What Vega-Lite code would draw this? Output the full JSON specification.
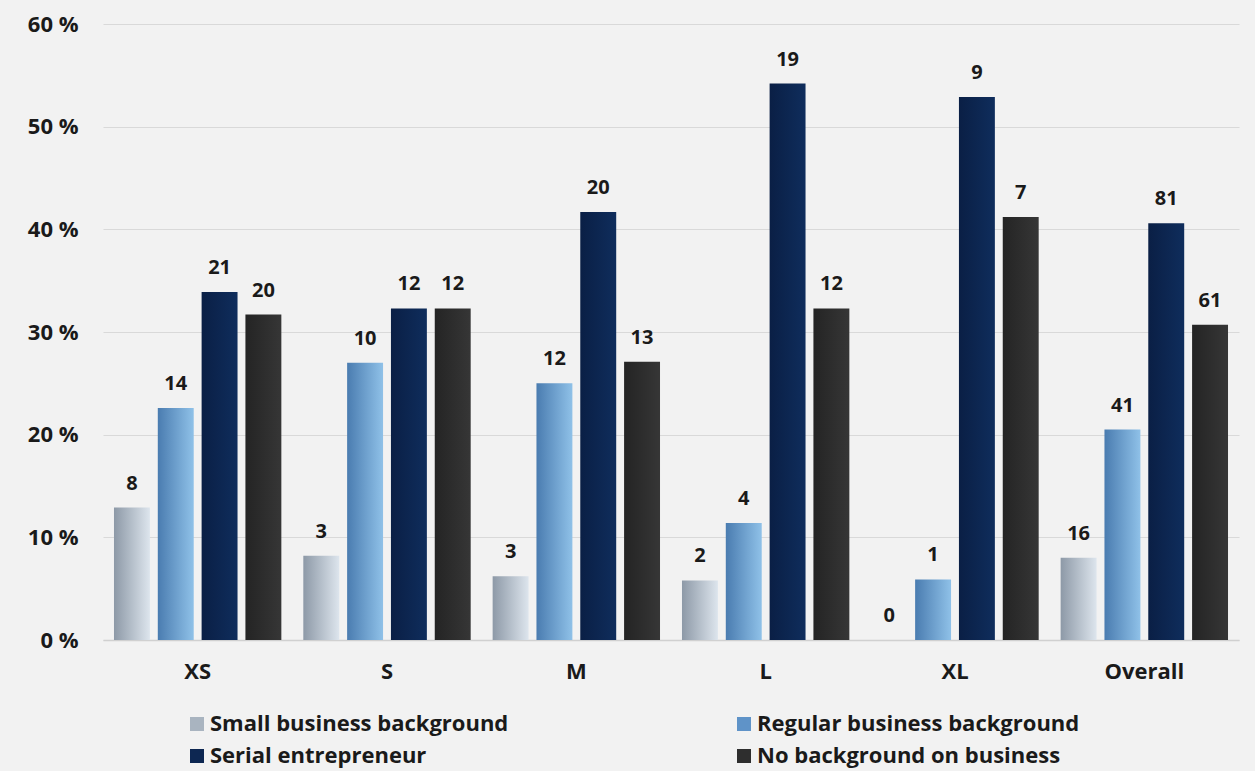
{
  "$schema": "https://vega.github.io/schema/vega-lite/v6.json",
  "width": 1136,
  "height": 616,
  "padding": {"left": 27, "top": 13, "right": 16, "bottom": 10},
  "background": "#f2f2f2",
  "config": {"view": {"stroke": null}, "font": "Open Sans"},
  "data": {
    "values": [
      {"size": "XS", "bg": "Small business background", "pct": 12.9, "n": 8},
      {"size": "XS", "bg": "Regular business background", "pct": 22.6, "n": 14},
      {"size": "XS", "bg": "Serial entrepreneur", "pct": 33.9, "n": 21},
      {"size": "XS", "bg": "No background on business", "pct": 31.7, "n": 20},
      {"size": "S", "bg": "Small business background", "pct": 8.2, "n": 3},
      {"size": "S", "bg": "Regular business background", "pct": 27.0, "n": 10},
      {"size": "S", "bg": "Serial entrepreneur", "pct": 32.3, "n": 12},
      {"size": "S", "bg": "No background on business", "pct": 32.3, "n": 12},
      {"size": "M", "bg": "Small business background", "pct": 6.2, "n": 3},
      {"size": "M", "bg": "Regular business background", "pct": 25.0, "n": 12},
      {"size": "M", "bg": "Serial entrepreneur", "pct": 41.7, "n": 20},
      {"size": "M", "bg": "No background on business", "pct": 27.1, "n": 13},
      {"size": "L", "bg": "Small business background", "pct": 5.8, "n": 2},
      {"size": "L", "bg": "Regular business background", "pct": 11.4, "n": 4},
      {"size": "L", "bg": "Serial entrepreneur", "pct": 54.2, "n": 19},
      {"size": "L", "bg": "No background on business", "pct": 32.3, "n": 12},
      {"size": "XL", "bg": "Small business background", "pct": 0, "n": 0},
      {"size": "XL", "bg": "Regular business background", "pct": 5.9, "n": 1},
      {"size": "XL", "bg": "Serial entrepreneur", "pct": 52.9, "n": 9},
      {"size": "XL", "bg": "No background on business", "pct": 41.2, "n": 7},
      {"size": "Overall", "bg": "Small business background", "pct": 8.0, "n": 16},
      {"size": "Overall", "bg": "Regular business background", "pct": 20.5, "n": 41},
      {"size": "Overall", "bg": "Serial entrepreneur", "pct": 40.6, "n": 81},
      {"size": "Overall", "bg": "No background on business", "pct": 30.7, "n": 61}
    ]
  },
  "encoding": {
    "x": {
      "field": "size", "type": "nominal",
      "sort": ["XS", "S", "M", "L", "XL", "Overall"],
      "scale": {"paddingInner": 0.116, "paddingOuter": 0.058},
      "axis": {"title": null, "labelAngle": 0, "labelFontSize": 22, "labelFontWeight": "bold", "labelColor": "#1a1a1a", "labelPadding": 21, "ticks": false, "domain": true, "domainColor": "#d0d0d0", "domainWidth": 1.5}
    },
    "xOffset": {
      "field": "bg", "type": "nominal",
      "sort": ["Small business background", "Regular business background", "Serial entrepreneur", "No background on business"],
      "scale": {"paddingInner": 0.18, "paddingOuter": 0}
    },
    "y": {
      "field": "pct", "type": "quantitative",
      "scale": {"domain": [0, 60]},
      "axis": {"title": null, "values": [0, 10, 20, 30, 40, 50, 60], "labelExpr": "datum.value + ' %'", "labelFontSize": 22, "labelFontWeight": "bold", "labelColor": "#1a1a1a", "labelPadding": 25, "ticks": false, "domain": false, "gridColor": "#d9d9d9", "gridWidth": 1}
    }
  },
  "layer": [
    {
      "mark": {"type": "bar"},
      "encoding": {
        "fill": {
          "condition": [
            {"test": "datum.bg === 'Small business background'", "value": {"gradient": "linear", "x1": 0, "y1": 0, "x2": 1, "y2": 0, "stops": [{"offset": 0, "color": "#8d99a7"}, {"offset": 1, "color": "#dde5ed"}]}},
            {"test": "datum.bg === 'Regular business background'", "value": {"gradient": "linear", "x1": 0, "y1": 0, "x2": 1, "y2": 0, "stops": [{"offset": 0, "color": "#4a7cb0"}, {"offset": 1, "color": "#8fc1e8"}]}},
            {"test": "datum.bg === 'Serial entrepreneur'", "value": {"gradient": "linear", "x1": 0, "y1": 0, "x2": 1, "y2": 0, "stops": [{"offset": 0, "color": "#0a1f45"}, {"offset": 1, "color": "#0f2d5c"}]}},
            {"test": "datum.bg === 'No background on business'", "value": {"gradient": "linear", "x1": 0, "y1": 0, "x2": 1, "y2": 0, "stops": [{"offset": 0, "color": "#242424"}, {"offset": 1, "color": "#363636"}]}}
          ],
          "field": "bg", "type": "nominal",
          "sort": ["Small business background", "Regular business background", "Serial entrepreneur", "No background on business"],
          "scale": {
            "domain": ["Small business background", "Regular business background", "Serial entrepreneur", "No background on business"],
            "range": ["#a9b4c0", "#5f93c8", "#0d2752", "#2e2e2e"]
          },
          "legend": {
            "title": null, "orient": "none", "legendX": 83, "legendY": 689, "direction": "horizontal",
            "columns": 2, "columnPadding": 224, "rowPadding": 10,
            "symbolType": "square", "symbolSize": 196, "symbolStrokeWidth": 0,
            "labelFontSize": 22, "labelFontWeight": "bold", "labelColor": "#1a1a1a", "labelLimit": 600, "labelOffset": 2
          }
        }
      }
    },
    {
      "mark": {"type": "text", "baseline": "bottom", "dy": -14, "fontSize": 20, "fontWeight": "bold", "color": "#1a1a1a"},
      "encoding": {"text": {"field": "n", "type": "quantitative"}}
    }
  ]
}
